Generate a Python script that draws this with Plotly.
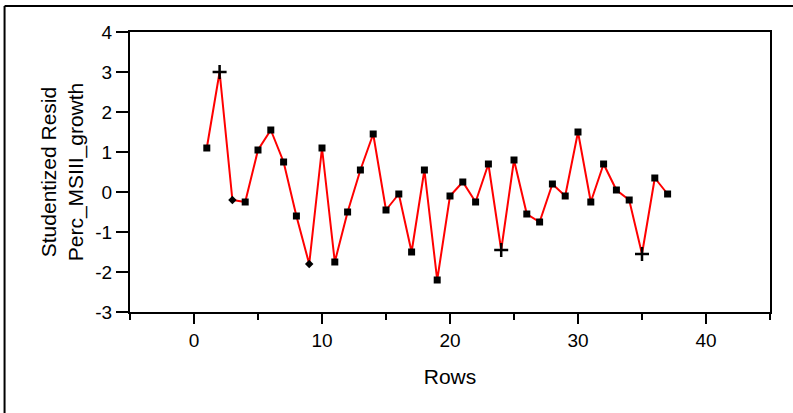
import plotly.graph_objects as go

# Studentized residuals of Perc_MSIII_growth, one value per row
rows = list(range(1, 38))
resid = [1.10, 3.00, -0.20, -0.25, 1.05, 1.55, 0.75, -0.60, -1.80, 1.10,
         -1.75, -0.50, 0.55, 1.45, -0.45, -0.05, -1.50, 0.55, -2.20, -0.10,
         0.25, -0.25, 0.70, -1.45, 0.80, -0.55, -0.75, 0.20, -0.10, 1.50,
         -0.25, 0.70, 0.05, -0.20, -1.55, 0.35, -0.05]

# rows flagged with special markers
plus_rows = [2, 24, 35]
diamond_rows = [3, 9]

x_ticks = [0, 10, 20, 30, 40]
x_tick_text = ["0", "10", "20", "30", "40"]
y_ticks = [-3, -2, -1, 0, 1, 2, 3, 4]
y_tick_text = ["-3", "-2", "-1", "0", "1", "2", "3", "4"]

FONT = "Liberation Sans, Arial, sans-serif"


def pick(keys):
    return [r for r in rows if r in keys], [v for r, v in zip(rows, resid) if r in keys]


square_x, square_y = pick([r for r in rows if r not in plus_rows + diamond_rows])
plus_x, plus_y = pick(plus_rows)
dia_x, dia_y = pick(diamond_rows)

fig = go.Figure()
fig.add_trace(go.Scatter(
    x=rows, y=resid, mode="lines",
    line=dict(color="#ff0000", width=2),
    hoverinfo="skip", showlegend=False,
))
fig.add_trace(go.Scatter(
    x=square_x, y=square_y, mode="markers",
    marker=dict(symbol="square", size=7, color="black", opacity=1,
                line=dict(width=0)),
    showlegend=False, cliponaxis=False,
))
fig.add_trace(go.Scatter(
    x=dia_x, y=dia_y, mode="markers",
    marker=dict(symbol="diamond", size=6.5, color="black", opacity=1,
                line=dict(width=0)),
    showlegend=False, cliponaxis=False,
))
fig.add_trace(go.Scatter(
    x=plus_x, y=plus_y, mode="markers",
    marker=dict(symbol="cross-thin", size=10, color="black", opacity=1,
                line=dict(color="black", width=2.5)),
    showlegend=False, cliponaxis=False,
))

axis_common = dict(
    showgrid=False, zeroline=False, showline=True, linecolor="black",
    linewidth=2, mirror=True, ticks="outside", tickcolor="black",
    tickwidth=2, tickfont=dict(family=FONT, size=19, color="black"),
)

fig.update_xaxes(
    range=[-5, 45], tickvals=x_ticks, ticktext=x_tick_text, ticklen=10,
    minor=dict(dtick=5, tick0=0, ticks="outside", ticklen=6,
               tickcolor="black", tickwidth=2),
    title=dict(text="Rows", font=dict(family=FONT, size=21, color="black"),
               standoff=20),
    **axis_common,
)
fig.update_yaxes(
    range=[-3, 4], tickvals=y_ticks, ticktext=y_tick_text, ticklen=12,
    title=dict(text="Studentized Resid<br>Perc_MSIII_growth",
               font=dict(family=FONT, size=21, color="black"), standoff=6),
    **axis_common,
)

# report frame: top and left edges
fig.add_shape(type="line", xref="paper", yref="paper",
              x0=-0.196, x1=1.05, y0=1.093, y1=1.093,
              line=dict(color="black", width=2))
fig.add_shape(type="line", xref="paper", yref="paper",
              x0=-0.196, x1=-0.196, y0=1.093, y1=-0.4,
              line=dict(color="black", width=2))

fig.update_layout(
    width=793, height=413,
    margin=dict(l=129.5, r=23, t=32, b=101, pad=0),
    paper_bgcolor="white", plot_bgcolor="white",
)

fig.write_html("out.html")
